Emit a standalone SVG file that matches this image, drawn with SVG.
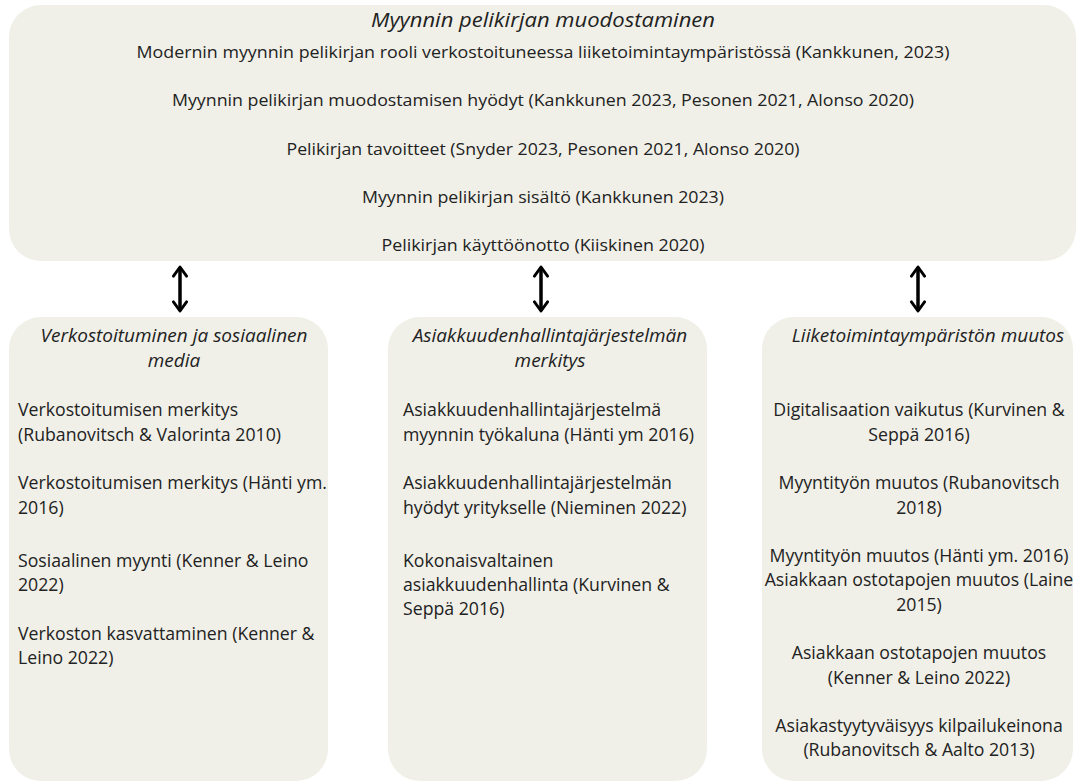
<svg xmlns="http://www.w3.org/2000/svg" width="1078" height="782" viewBox="0 0 1078 782">
<defs>
<style>
.box{fill:#f0f0e8;}
text{font-family:"Open Sans","Noto Sans","Liberation Sans",sans-serif;fill:#222;font-size:17.7px;}
.t{font-style:italic;font-size:19px;}
.big{font-style:italic;font-size:19.5px;}
.s{font-size:16px;}
.c{text-anchor:middle;}
.conn{stroke:#000;stroke-width:3.5;fill:none;marker-start:url(#ah);marker-end:url(#ah);}
</style>
<marker id="ah" viewBox="0 0 12 12" refX="10" refY="6" markerWidth="4.5" markerHeight="4.5" orient="auto-start-reverse" markerUnits="strokeWidth">
<path d="M3,1 L10,6 L3,11" fill="none" stroke="#000" stroke-width="2.2" stroke-linecap="round" stroke-linejoin="round"/>
</marker>
</defs>
<rect width="1078" height="782" fill="#fff"/>
<g id="top">
<rect class="box" x="9" y="5" width="1067" height="256" rx="32"/>
<text class="big c" x="543" y="27" textLength="344" lengthAdjust="spacingAndGlyphs">Myynnin pelikirjan muodostaminen</text>
<text class="s c" x="543" y="58" textLength="813" lengthAdjust="spacingAndGlyphs">Modernin myynnin pelikirjan rooli verkostoituneessa liiketoimintaympäristössä (Kankkunen, 2023)</text>
<text class="s c" x="543" y="106" textLength="742" lengthAdjust="spacingAndGlyphs">Myynnin pelikirjan muodostamisen hyödyt (Kankkunen 2023, Pesonen 2021, Alonso 2020)</text>
<text class="s c" x="543" y="155" textLength="513" lengthAdjust="spacingAndGlyphs">Pelikirjan tavoitteet (Snyder 2023, Pesonen 2021, Alonso 2020)</text>
<text class="s c" x="543" y="203" textLength="362" lengthAdjust="spacingAndGlyphs">Myynnin pelikirjan sisältö (Kankkunen 2023)</text>
<text class="s c" x="543" y="251" textLength="323" lengthAdjust="spacingAndGlyphs">Pelikirjan käyttöönotto (Kiiskinen 2020)</text>
</g>
<g id="left">
<rect class="box" x="9" y="317" width="319" height="464" rx="32"/>
<text class="t c" x="174" y="342">Verkostoituminen ja sosiaalinen</text>
<text class="t c" x="174" y="367">media</text>
<text x="18" y="416">Verkostoitumisen merkitys</text>
<text x="18" y="441">(Rubanovitsch &amp; Valorinta 2010)</text>
<text x="18" y="489">Verkostoitumisen merkitys (Hänti ym.</text>
<text x="18" y="514">2016)</text>
<text x="18" y="567">Sosiaalinen myynti (Kenner &amp; Leino</text>
<text x="18" y="591">2022)</text>
<text x="18" y="640">Verkoston kasvattaminen (Kenner &amp;</text>
<text x="18" y="664">Leino 2022)</text>
</g>
<g id="middle">
<rect class="box" x="388" y="317" width="319" height="464" rx="32"/>
<text class="t c" x="550" y="342">Asiakkuudenhallintajärjestelmän</text>
<text class="t c" x="550" y="367">merkitys</text>
<text x="403" y="416">Asiakkuudenhallintajärjestelmä</text>
<text x="403" y="441">myynnin työkaluna (Hänti ym 2016)</text>
<text x="403" y="489">Asiakkuudenhallintajärjestelmän</text>
<text x="403" y="514">hyödyt yritykselle (Nieminen 2022)</text>
<text x="403" y="567">Kokonaisvaltainen</text>
<text x="403" y="591">asiakkuudenhallinta (Kurvinen &amp;</text>
<text x="403" y="615">Seppä 2016)</text>
</g>
<g id="right">
<rect class="box" x="762" y="317" width="311" height="464" rx="32"/>
<text class="t c" x="928" y="342">Liiketoimintaympäristön muutos</text>
<text class="c" x="919" y="416">Digitalisaation vaikutus (Kurvinen &amp;</text>
<text class="c" x="919" y="441">Seppä 2016)</text>
<text class="c" x="919" y="489">Myyntityön muutos (Rubanovitsch</text>
<text class="c" x="919" y="514">2018)</text>
<text class="c" x="919" y="562">Myyntityön muutos (Hänti ym. 2016)</text>
<text class="c" x="919" y="586">Asiakkaan ostotapojen muutos (Laine</text>
<text class="c" x="919" y="611">2015)</text>
<text class="c" x="919" y="659">Asiakkaan ostotapojen muutos</text>
<text class="c" x="919" y="684">(Kenner &amp; Leino 2022)</text>
<text class="c" x="919" y="732">Asiakastyytyväisyys kilpailukeinona</text>
<text class="c" x="919" y="756">(Rubanovitsch &amp; Aalto 2013)</text>
</g>
<g id="connectors">
<path class="conn" d="M180,267 L180,311"/>
<path class="conn" d="M541,267 L541,311"/>
<path class="conn" d="M918,267 L918,311"/>
</g>
</svg>
